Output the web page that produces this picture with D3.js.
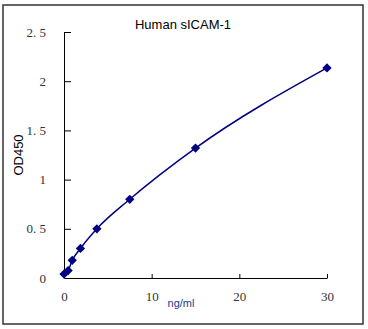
<!DOCTYPE html>
<html><head><meta charset="utf-8">
<script src="https://cdn.jsdelivr.net/npm/d3@7"></script>
<style>body{margin:0;background:#fff}</style>
</head><body>
<svg id="c" width="368" height="329"></svg>
<script>
const conc = [0, 0.47, 0.94, 1.875, 3.75, 7.5, 15, 30];
const od = [0.04, 0.075, 0.18, 0.30, 0.50, 0.80, 1.32, 2.135];
const xTicks = [0, 10, 20, 30];
const yTicks = [0, 0.5, 1, 1.5, 2, 2.5];
const yTickLabels = ["0", "0. 5", "1", "1. 5", "2", "2. 5"];
const title = "Human sICAM-1";
const xLabel = "ng/ml";
const yLabel = "OD450";

const svg = d3.select("#c");
svg.append("rect").attr("x", 3).attr("y", 5).attr("width", 360).attr("height", 319)
  .attr("fill", "#fff").attr("stroke", "#333").attr("stroke-width", 1.5);

const x = d3.scaleLinear().domain([0, 30]).range([64, 327]);
const y = d3.scaleLinear().domain([0, 2.5]).range([278, 32]);

const xAxis = d3.axisBottom(x).tickValues(xTicks).tickSizeInner(-4).tickSizeOuter(0).tickPadding(14);
const gx = svg.append("g").attr("transform", `translate(0,${y(0)})`).call(xAxis);
gx.select(".domain").attr("stroke", "#000");
gx.selectAll(".tick line").attr("stroke", "#000");
gx.selectAll("text").attr("font-family", "Liberation Serif").attr("font-size", 13).attr("fill", "#333");
gx.selectAll(".tick").filter(d => d === 0).select("line").remove();

const yAxis = d3.axisLeft(y).tickValues(yTicks).tickSizeInner(-7).tickSizeOuter(0).tickPadding(18)
  .tickFormat((d, i) => yTickLabels[i]);
const gy = svg.append("g").attr("transform", `translate(${x(0)},0)`).call(yAxis);
gy.select(".domain").attr("stroke", "#000");
gy.selectAll(".tick line").attr("stroke", "#000");
gy.selectAll("text").attr("font-family", "Liberation Serif").attr("font-size", 13).attr("fill", "#333");
gy.selectAll(".tick").filter(d => d === 0).select("line").remove();

const pts = conc.map((c, i) => [c, od[i]]);
const line = d3.line().x(d => x(d[0])).y(d => y(d[1])).curve(d3.curveMonotoneX);
svg.append("path").datum(pts).attr("d", line).attr("fill", "none")
  .attr("stroke", "#000080").attr("stroke-width", 1.5);

svg.selectAll(".pt").data(pts).enter().append("path")
  .attr("d", d3.symbol().type(d3.symbolDiamond2).size(55))
  .attr("transform", d => `translate(${x(d[0])},${y(d[1])})`)
  .attr("fill", "#000080");

svg.append("text").attr("x", 183).attr("y", 29).attr("text-anchor", "middle")
  .attr("font-family", "Liberation Sans").attr("font-size", 13).attr("fill", "#000").text(title);
svg.append("text").attr("x", 181).attr("y", 307).attr("text-anchor", "middle")
  .attr("font-family", "Liberation Sans").attr("font-size", 11).attr("fill", "#1a3a8a").text(xLabel);
svg.append("text").attr("transform", "translate(23,155) rotate(-90)").attr("text-anchor", "middle")
  .attr("font-family", "Liberation Sans").attr("font-size", 13).attr("fill", "#000").text(yLabel);
</script>
</body></html>
